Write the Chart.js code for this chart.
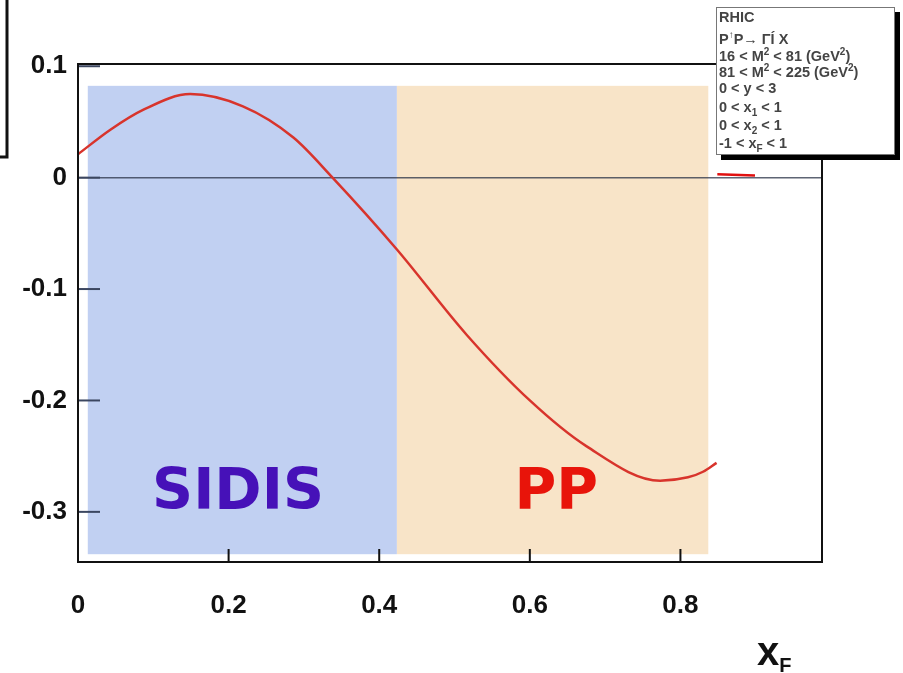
<!DOCTYPE html>
<html>
<head>
<meta charset="utf-8">
<script src="https://cdn.jsdelivr.net/npm/chart.js@4"></script>
<style>
  html, body { margin: 0; padding: 0; background: #fff; }
  #wrap { width: 903px; height: 673px; position: relative; }
</style>
</head>
<body>
<div id="wrap"><canvas id="asymChart"></canvas></div>
<script>
// curve (x_F, asymmetry)
const curveX = [0, 0.043, 0.087, 0.149, 0.219, 0.286, 0.338, 0.4235, 0.516, 0.6, 0.675, 0.773, 0.81, 0.83, 0.848];
const curveY = [0.021, 0.043, 0.061, 0.075, 0.064, 0.036, 0, -0.0645, -0.141, -0.2, -0.241, -0.272, -0.269, -0.264, -0.256];
// short piece of a second curve, just below the legend box
const tailX = [0.849, 0.899];
const tailY = [0.003, 0.002];

const xTicks = [0, 0.2, 0.4, 0.6, 0.8];
const yTicks = [0.1, 0, -0.1, -0.2, -0.3];

// kinematic regions
const regionNames = ['SIDIS', 'PP'];
const regionX = [[0.013, 0.4235], [0.4235, 0.837]];
const regionY = [-0.338, 0.0824];
const regionColors = ['#c1d0f2', '#f8e4c8'];
const regionTextColors = ['#4611b8', '#e8140a'];

// ^ = superscript, _ = subscript (next char)
const legendLines = ['RHIC', 'P^↑P→ ΓÍ X', '16 < M^2 < 81 (GeV^2)', '81 < M^2 < 225 (GeV^2)',
  '0 < y < 3', '0 < x_1 < 1', '0 < x_2 < 1', '-1 < x_F < 1'];

const FONT = '"Liberation Sans", Arial, sans-serif';

function drawRich(ctx, str, x, y, size, subSize, supDy, subDy) {
  let i = 0;
  while (i < str.length) {
    const c = str[i];
    if ((c === '^' || c === '_') && i + 1 < str.length) {
      const s = str[i + 1];
      ctx.font = 'bold ' + subSize + 'px ' + FONT;
      ctx.fillText(s, x, y + (c === '^' ? supDy : subDy));
      x += ctx.measureText(s).width;
      i += 2;
    } else {
      ctx.font = 'bold ' + size + 'px ' + FONT;
      ctx.fillText(c, x, y);
      x += ctx.measureText(c).width;
      i++;
    }
  }
}

const bandsPlugin = {
  id: 'bands',
  beforeDatasetsDraw(chart) {
    const { ctx, chartArea, scales: { x, y } } = chart;
    ctx.save();
    const top = y.getPixelForValue(regionY[1]);
    const bottom = y.getPixelForValue(regionY[0]);
    regionX.forEach((r, i) => {
      const left = x.getPixelForValue(r[0]);
      const right = x.getPixelForValue(r[1]);
      ctx.fillStyle = regionColors[i];
      ctx.fillRect(left, top, right - left, bottom - top);
    });

    // region names
    const labelAt = [0.2125, 0.635];
    ctx.font = 'bold 57px "DejaVu Sans", sans-serif';
    ctx.textAlign = 'center';
    ctx.textBaseline = 'alphabetic';
    regionNames.forEach((name, i) => {
      ctx.fillStyle = regionTextColors[i];
      ctx.fillText(name, x.getPixelForValue(labelAt[i]), y.getPixelForValue(-0.2975));
    });

    // zero line
    const y0 = y.getPixelForValue(0);
    ctx.strokeStyle = 'rgba(40, 50, 70, 0.75)';
    ctx.lineWidth = 1.5;
    ctx.beginPath();
    ctx.moveTo(chartArea.left, y0);
    ctx.lineTo(chartArea.right, y0);
    ctx.stroke();
    ctx.restore();
  }
};

const framePlugin = {
  id: 'frame',
  afterDatasetsDraw(chart) {
    const { ctx, chartArea: a, scales: { x, y } } = chart;
    ctx.save();
    // inner tick marks
    ctx.strokeStyle = '#3b4660';
    ctx.lineWidth = 2;
    yTicks.forEach(v => {
      const py = y.getPixelForValue(v);
      ctx.beginPath();
      ctx.moveTo(a.left, py);
      ctx.lineTo(a.left + 22, py);
      ctx.stroke();
    });
    ctx.strokeStyle = '#111';
    xTicks.forEach(v => {
      const px = x.getPixelForValue(v);
      ctx.beginPath();
      ctx.moveTo(px, a.bottom);
      ctx.lineTo(px, a.bottom - 13);
      ctx.stroke();
    });
    ctx.strokeRect(a.left, a.top, a.right - a.left, a.bottom - a.top);
    ctx.restore();
  },
  afterDraw(chart) {
    const { ctx } = chart;
    ctx.save();

    // edge of the neighbouring panel's box
    ctx.strokeStyle = '#111';
    ctx.lineWidth = 3;
    ctx.beginPath();
    ctx.moveTo(7, 0);
    ctx.lineTo(7, 157);
    ctx.lineTo(0, 157);
    ctx.stroke();

    // legend box with shadow
    ctx.fillStyle = '#000';
    ctx.fillRect(721, 12, 179, 148);
    ctx.fillStyle = '#fff';
    ctx.fillRect(716, 7, 179, 148);
    ctx.strokeStyle = '#777';
    ctx.lineWidth = 1;
    ctx.strokeRect(716.5, 7.5, 178, 147);

    const baselines = [22, 44, 61, 77, 93, 112, 130, 148];
    ctx.fillStyle = '#444';
    ctx.textAlign = 'left';
    ctx.textBaseline = 'alphabetic';
    legendLines.forEach((line, i) => {
      drawRich(ctx, line, 719, baselines[i], 14.5, 10, -6, 4);
    });

    // axis title x_F
    ctx.fillStyle = '#111';
    drawRich(ctx, 'x_F', 757, 665, 40, 20, -12, 7);
    ctx.restore();
  }
};

new Chart(document.getElementById('asymChart'), {
  type: 'scatter',
  data: {
    datasets: [
      {
        data: curveX.map((v, i) => ({ x: v, y: curveY[i] })),
        showLine: true,
        borderColor: '#d8342c',
        borderWidth: 2.5,
        pointRadius: 0,
        cubicInterpolationMode: 'monotone'
      },
      {
        data: tailX.map((v, i) => ({ x: v, y: tailY[i] })),
        showLine: true,
        borderColor: '#e01010',
        borderWidth: 2.5,
        pointRadius: 0
      }
    ]
  },
  options: {
    responsive: true,
    maintainAspectRatio: false,
    animation: false,
    layout: { padding: { left: 0, top: 64, right: 81, bottom: 0 } },
    plugins: { legend: { display: false }, tooltip: { enabled: false } },
    scales: {
      x: {
        type: 'linear',
        min: 0,
        max: 0.988,
        grid: { display: false, drawTicks: false },
        border: { display: false },
        afterBuildTicks: s => { s.ticks = xTicks.map(v => ({ value: v })); },
        afterFit: s => { s.height = 111; },
        ticks: {
          padding: 28,
          color: '#111',
          maxRotation: 0,
          autoSkip: false,
          font: { family: 'Liberation Sans', size: 26, weight: 'bold' },
          callback: v => String(v)
        }
      },
      y: {
        type: 'linear',
        min: -0.345,
        max: 0.102,
        grid: { display: false, drawTicks: false },
        border: { display: false },
        afterBuildTicks: s => { s.ticks = yTicks.map(v => ({ value: v })); },
        afterFit: s => { s.width = 78; },
        ticks: {
          padding: 11,
          color: '#111',
          autoSkip: false,
          font: { family: 'Liberation Sans', size: 26, weight: 'bold' },
          callback: v => String(v)
        }
      }
    }
  },
  plugins: [bandsPlugin, framePlugin]
});
</script>
</body>
</html>
